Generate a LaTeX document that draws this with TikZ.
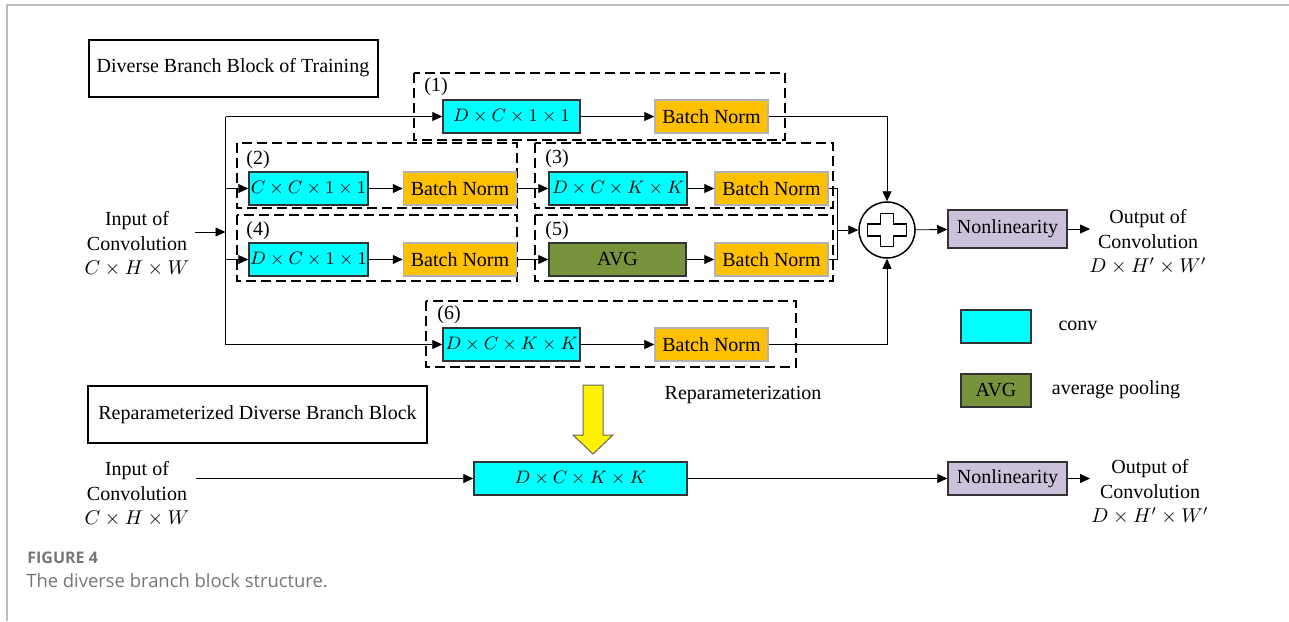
\documentclass[tikz,border=0pt]{standalone}
\usepackage{fontspec}
\setmainfont{Liberation Serif}
\newfontfamily\capfont{Open Sans}
\usetikzlibrary{arrows.meta}

\definecolor{convcyan}{HTML}{00FFFF}
\definecolor{bnorange}{HTML}{FFC000}
\definecolor{avggreen}{HTML}{77933C}
\definecolor{nllilac}{HTML}{CCC1DA}
\definecolor{framegray}{HTML}{BDBDBD}
\definecolor{capgray}{HTML}{767676}

\begin{document}
\begin{tikzpicture}[x=0.5pt, y=-0.5pt, font=\fontsize{10}{12.25}\selectfont,
  >={Triangle[length=5pt,width=4.5pt]},
  conv/.style={draw=black!80, fill=convcyan, line width=0.75pt, minimum height=16.5pt,
    inner sep=0pt, font=\fontsize{9.5}{11}\selectfont},
  bn/.style={draw=black!30, fill=bnorange, line width=0.75pt, minimum width=56.5pt,
    minimum height=16.5pt, inner sep=0pt},
  avg/.style={draw=black!80, fill=avggreen, line width=0.75pt, minimum height=16.5pt, inner sep=0pt},
  nonlin/.style={draw=black!80, fill=nllilac, line width=0.75pt, minimum width=59.5pt, inner sep=0pt},
  titlebox/.style={draw, line width=1pt, minimum height=28.5pt, inner sep=0pt},
  dashbox/.style={dash pattern=on 5pt off 2.5pt, line width=0.75pt},
  txt/.style={align=center, inner sep=0pt}]

  \useasboundingbox (0,0) rectangle (1289,621);
  \draw[framegray, line width=1pt] (6.5,621) -- (6.5,5) -- (1289,5);

  % training block
  \node[titlebox, minimum width=144.5pt] (ttrain) at (233,68) {Diverse Branch Block of Training};

  \draw[dashbox] (414,73) rectangle (785,140);
  \draw[dashbox] (237,143) rectangle (517,208);
  \draw[dashbox] (535,143) rectangle (833,208);
  \draw[dashbox] (237,215) rectangle (517,281);
  \draw[dashbox] (535,215) rectangle (833,281);
  \draw[dashbox] (426,301) rectangle (796,367);

  \node[txt] (l1) at (436,87) {(1)};
  \node[txt] (l2) at (258,160) {(2)};
  \node[txt] (l3) at (557,159) {(3)};
  \node[txt] (l4) at (258,231) {(4)};
  \node[txt] (l5) at (557,231) {(5)};
  \node[txt] (l6) at (449,315) {(6)};

  \node[conv, minimum width=68.5pt] (c1) at (511.5,116.5) {$D\times C\times 1\times 1$};
  \node[bn] (b1) at (711.5,116.5) {Batch Norm};
  \node[conv, minimum width=59.5pt] (c2) at (308.5,188.5) {$C\times C\times 1\times 1$};
  \node[bn] (b2) at (460,188.5) {Batch Norm};
  \node[conv, minimum width=69pt] (c3) at (618,188.5) {$D\times C\times K\times K$};
  \node[bn] (b3) at (771.5,188.5) {Batch Norm};
  \node[conv, minimum width=59.5pt] (c4) at (308.5,259.5) {$D\times C\times 1\times 1$};
  \node[bn] (b4) at (460,259.5) {Batch Norm};
  \node[avg, minimum width=68.5pt] (a5) at (617.5,259.5) {AVG};
  \node[bn] (b5) at (771.5,259.5) {Batch Norm};
  \node[conv, minimum width=68.5pt] (c6) at (511.5,344.5) {$D\times C\times K\times K$};
  \node[bn] (b6) at (711.5,344.5) {Batch Norm};

  \node[circle, draw, line width=0.75pt, minimum size=28pt, inner sep=0pt] (plus) at (887,230) {};
  \draw[line width=0.75pt, shift={(plus.center)}] (-6.5,-16.5) -- (6.5,-16.5) -- (6.5,-6) -- (19.5,-6)
    -- (19.5,6) -- (6.5,6) -- (6.5,16.5) -- (-6.5,16.5) -- (-6.5,6) -- (-19.5,6) -- (-19.5,-6)
    -- (-6.5,-6) -- cycle;

  \node[nonlin, minimum height=19pt] (nl) at (1007.5,229) {Nonlinearity};

  \node[txt] (intxt) at (137,244) {Input of\\Convolution\\$C\times H\times W$};
  \node[txt] (outtxt) at (1148,242) {Output of\\Convolution\\$D\times H'\times W'$};

  \coordinate (inL) at (195,232);
  \coordinate (trunkT) at (225.5,116.5);
  \coordinate (trunkB) at (225.5,344.5);
  \coordinate (mergeR) at (837,230);
  \coordinate (outL) at (1090,229);

  \draw (trunkT) -- (trunkB);
  \draw[->] (inL) -- (inL -| trunkT);
  \draw[->] (trunkT) -- (c1);
  \draw[->] (c2 -| trunkT) -- (c2);
  \draw[->] (c4 -| trunkT) -- (c4);
  \draw[->] (trunkB) -- (c6);

  \draw[->] (c1) -- (b1);
  \draw[->] (c2) -- (b2);
  \draw[->] (b2) -- (c3);
  \draw[->] (c3) -- (b3);
  \draw[->] (c4) -- (b4);
  \draw[->] (b4) -- (a5);
  \draw[->] (a5) -- (b5);
  \draw[->] (c6) -- (b6);

  \draw (b3.east) -- (b3.east -| mergeR) |- (b5.east);
  \draw[->] (mergeR) -- (plus.west);
  \draw[->] (b1.east) -| (plus.north);
  \draw[->] (b6.east) -| (plus.south);
  \draw[->] (plus) -- (nl);
  \draw[->] (nl) -- (outL);

  % legend
  \node[conv, minimum width=35pt] (legc) at (996,326.5) {};
  \node[txt] (legctxt) at (1078,326) {conv};
  \node[avg, minimum width=35pt] (lega) at (996,390.5) {AVG};
  \node[txt] (legatxt) at (1116,390) {average pooling};

  \node[txt] (reptxt) at (743,395) {Reparameterization};
  \draw[fill=yellow, draw=black!60, line width=0.5pt] (583,385) -- (603,385) -- (603,435) -- (613,435)
    -- (593,454) -- (573,435) -- (583,435) -- cycle;

  % reparameterized block
  \node[titlebox, minimum width=169.5pt] (trep) at (257.5,414.5) {Reparameterized Diverse Branch Block};
  \node[conv, minimum width=106.5pt] (cR) at (580.5,478.5) {$D\times C\times K\times K$};
  \node[nonlin, minimum height=16.5pt] (nlR) at (1007.5,478.5) {Nonlinearity};
  \node[txt] (intxtR) at (137,494) {Input of\\Convolution\\$C\times H\times W$};
  \node[txt] (outtxtR) at (1150,492) {Output of\\Convolution\\$D\times H'\times W'$};

  \coordinate (inR) at (196,478.5);
  \coordinate (outR) at (1090,478.5);
  \draw[->] (inR) -- (cR);
  \draw[->] (cR) -- (nlR);
  \draw[->] (nlR) -- (outR);

  \node[anchor=west, capgray, inner sep=0pt, font=\capfont\bfseries\fontsize{8}{9}\selectfont] (capnum) at (27,558) {FIGURE 4};
  \node[anchor=west, capgray, inner sep=0pt, font=\capfont\fontsize{9.2}{11}\selectfont] (captxt) at (26,581) {The diverse branch block structure.};
\end{tikzpicture}
\end{document}
